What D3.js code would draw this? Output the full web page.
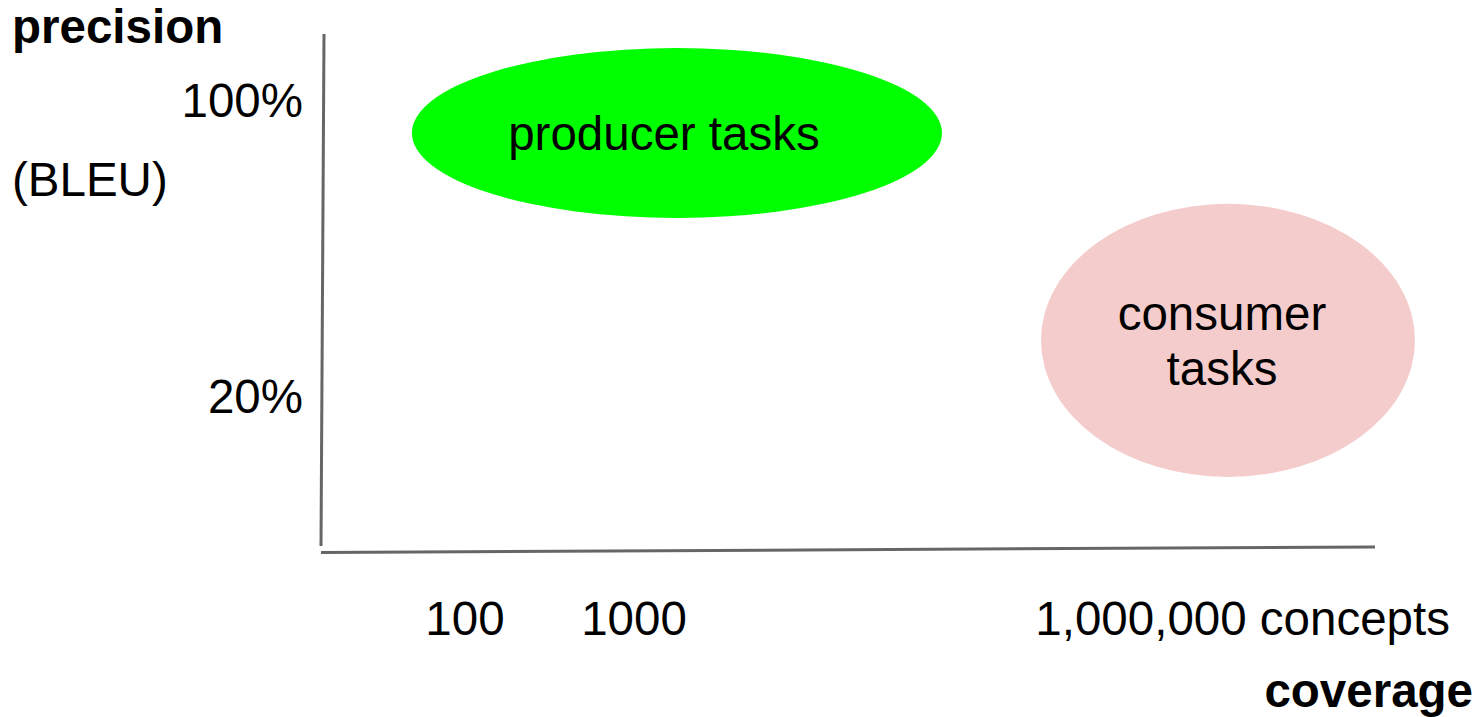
<!DOCTYPE html>
<html><head><meta charset="utf-8">
<script src="https://cdn.jsdelivr.net/npm/d3@7"></script>
<style>body{margin:0;background:#fff}text{font-family:"Liberation Sans",Arial,sans-serif}</style>
</head><body>
<svg id="c" width="1481" height="717"></svg>
<script>
// ---- data ----
const xTickValues = [100, 1000, 1000000];
const xTickLabels = ["100", "1000", "1,000,000"];
const xUnit = "concepts";
const yTickValues = [100, 20];
const yTickLabels = ["100%", "20%"];
const regionNames = [["producer tasks"], ["consumer", "tasks"]];
const regionX0 = [48.5, 256000];      // coverage extent (concepts)
const regionX1 = [66400, 41800000];
const regionY0 = [68.4, -1.6];        // precision extent (%)
const regionY1 = [114.3, 72.2];
const regionColors = ["#00ff00", "#f4cccc"];
const yTitle = "precision", ySub = "(BLEU)", xTitle = "coverage";

// ---- scales ----
const svg = d3.select("#c");
const x = d3.scaleLog().domain([100, 1e6]).range([465, 1141]);
const y = d3.scaleLinear().domain([20, 100]).range([397, 101]);
const font = 47.5;

// axes (slightly hand-drawn)
const axisColor = "#666";
svg.append("path").attr("d", "M324,34 L321,546").attr("stroke", axisColor).attr("stroke-width", 3).attr("fill", "none");
svg.append("path").attr("d", "M321,552.5 L1375,547").attr("stroke", axisColor).attr("stroke-width", 3).attr("fill", "none");

// regions
regionNames.forEach((name, i) => {
  const cx0 = x(regionX0[i]), cx1 = x(regionX1[i]);
  const cy0 = y(regionY1[i]), cy1 = y(regionY0[i]);
  const cx = (cx0 + cx1) / 2, cy = (cy0 + cy1) / 2;
  svg.append("ellipse").attr("cx", cx).attr("cy", cy)
    .attr("rx", (cx1 - cx0) / 2).attr("ry", (cy1 - cy0) / 2)
    .attr("fill", regionColors[i]);
  const lh = 55;
  const t = svg.append("text").attr("text-anchor", "middle").attr("font-size", font).attr("fill", "#000");
  name.forEach((line, j) => {
    t.append("tspan").attr("x", i === 0 ? cx - 13 : cx - 6)
      .attr("y", cy + 17 + (j - (name.length - 1) / 2) * lh).text(line);
  });
});

// y ticks
yTickValues.forEach((v, i) => {
  svg.append("text").attr("x", 303).attr("y", y(v) + 16).attr("text-anchor", "end")
    .attr("font-size", font).text(yTickLabels[i]);
});
// x ticks
xTickValues.forEach((v, i) => {
  svg.append("text").attr("x", x(v)).attr("y", 635).attr("text-anchor", "middle")
    .attr("font-size", font).text(xTickLabels[i]);
});
const lastW = 4.448 * font;
svg.append("text").attr("x", x(1e6) + lastW / 2 + 0.278 * font).attr("y", 635)
  .attr("font-size", font).text(xUnit);

// titles
svg.append("text").attr("x", 12).attr("y", 43).attr("font-size", font).attr("font-weight", "bold").text(yTitle);
svg.append("text").attr("x", 12).attr("y", 196).attr("font-size", font).text(ySub);
svg.append("text").attr("x", 1473).attr("y", 707).attr("text-anchor", "end").attr("font-size", font).attr("font-weight", "bold").text(xTitle);
</script>
</body></html>
